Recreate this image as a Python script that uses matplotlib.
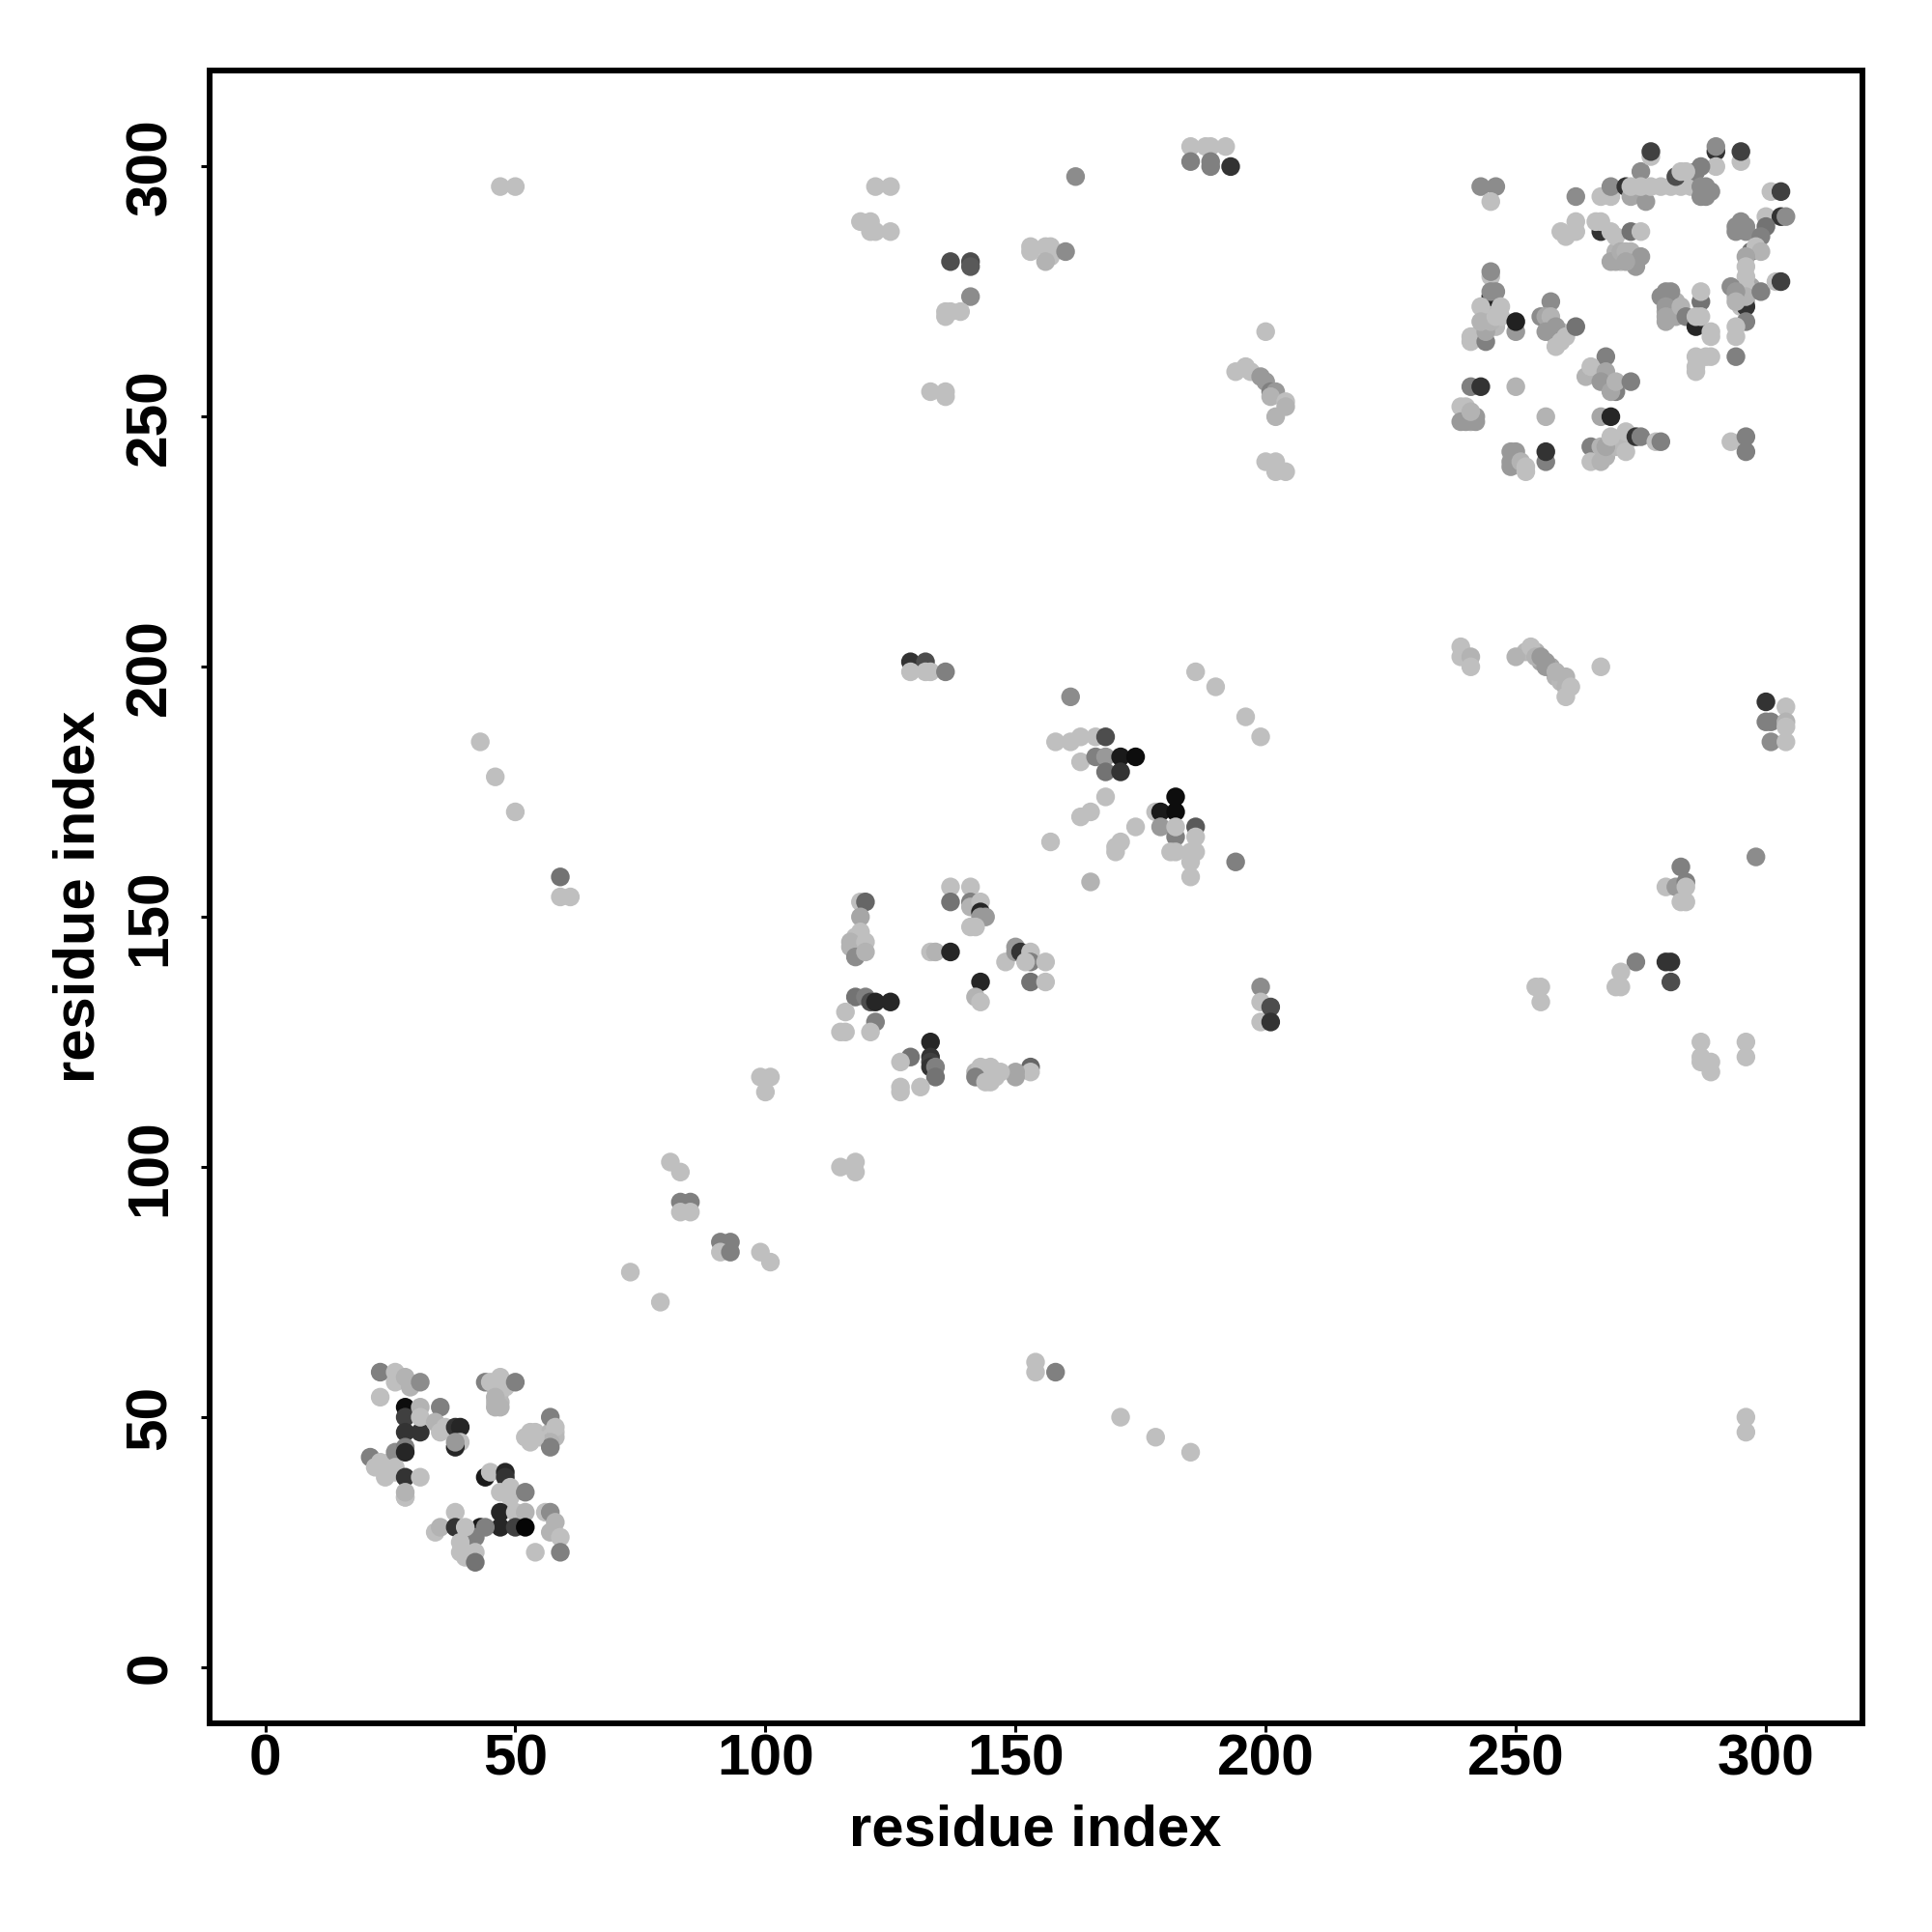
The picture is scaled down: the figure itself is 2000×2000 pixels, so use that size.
import numpy as np
import matplotlib
matplotlib.use("Agg")
import matplotlib.pyplot as plt

plt.rcParams['font.family'] = ['Liberation Sans', 'DejaVu Sans']

# denser underlay of the crowded contact groups
fill_x = [46,47,47,48,47,46,53,54,55,57,57,58,58,26,24,25,42,41,40,41,
          243,242,246,247,244,245,257,258,259,269,268,270,271,267,266,270,271,273,294,295,294,297,296,
          281,280,282,280,240,241,252,254,255,257,256,258,259,119,118,119,118,142,144,146,272,270]
fill_y = [53,53,55,56,52,56,47,47,46,47,46,47,46,39,40,41,27,25,24,24,
          266,266,268,270,269,271,268,266,267,244,242,245,245,243,242,283,281,283,275,272,274,276,273,
          272,271,273,269,250,249,203,203,201,200,201,198,197,145,144,143,146,119,119,118,245,244]
fill_g = [.75,.72,.72,.75,.7,.75,.75,.75,.75,.72,.75,.75,.72,.75,.75,.75,.75,.75,.75,.75,
          .72,.72,.72,.75,.7,.72,.7,.72,.75,.72,.7,.72,.75,.7,.72,.7,.72,.7,.7,.75,.72,.65,.72,
          .65,.65,.7,.65,.65,.65,.72,.7,.65,.65,.6,.7,.72,.7,.7,.72,.75,.72,.75,.75,.72,.72]

# upper-right cluster
ne_x = [243,246,245,262,267,269,269, 272,273,276,275,277,277, 273,275,277,279,281,283,285,
        290,290,290,287,286,282,283,284, 287,288,289,287,288, 295,295, 301,303, 300,303,304,
        294,295,296,294,296, 300,299,297,298,299,
        296,296,296,296,296,296,299,302,303,293,294,294,296,294,294,
        294,286,288,289,286,286, 287,287,
        279,280,281,280,280,282,283,284,286,286,287,289,289,
        259,262,262,260, 267,266,267,269,270,273,275,
        269,270,271,272,274,275,272,
        245,245,245,245,246,243,247,250,250,241,241,244,244,243,245,246,
        257,255,256,257,256,258,258,259,260,262,
        268,264,265,268,267,270,269,270,273, 241,243,250,
        239,240,239,240,242,242,241, 256,267,269,
        256,256,249,250,249,249,251,252,252,
        265,267,265,267,268,269,272,272,274,275,278,279,293,296,296]
ne_y = [296,296,293,294,294,294,296, 296,294,293,299,302,303, 296,296,296,296,296,296,296,
        303,304,300,300,299,298,299,299, 296,296,295,294,294, 301,303, 295,295, 290,290,290,
        288,289,288,287,287, 288,286,283,284,283,
        272,282,280,278,276,274,275,277,277,276,275,273,269,268,266,
        262,262,262,262,260,259, 273,275,
        274,275,275,272,270,270,272,270,268,270,270,267,266,
        287,289,287,286, 287,289,289,287,286,287,287,
        281,281,283,283,280,282,281,
        278,279,274,275,275,272,272,267,269,266,265,265,267,269,269,270,
        273,270,270,270,267,268,264,265,266,268,
        262,258,260,259,257,255,255,257,257, 256,256,256,
        252,252,249,249,249,250,251, 250,250,250,
        241,243,243,243,241,240,241,240,239,
        244,244,241,241,244,246,247,243,246,246,245,245,245,246,243]
ne_g = [.55,.55,.75,.55,.75,.75,.55, .2,.65,.6,.55,.75,.25, .75,.75,.75,.75,.75,.75,.75,
        .2,.55,.75,.5,.5,.3,.75,.75, .55,.55,.55,.55,.55, .75,.25, .75,.25, .75,.2,.55,
        .55,.55,.55,.55,.55, .45,.5,.45,.75,.7,
        .2,.65,.75,.75,.75,.7,.5,.75,.25,.55,.6,.7,.5,.75,.75,
        .5,.75,.75,.75,.75,.75, .45,.75,
        .55,.55,.55,.6,.65,.65,.7,.5,.15,.75,.75,.75,.75,
        .75,.75,.75,.75, .2,.75,.75,.75,.75,.45,.75,
        .65,.65,.68,.7,.6,.6,.65,
        .75,.55,.15,.55,.55,.75,.75,.6,.13,.75,.75,.5,.65,.7,.7,.75,
        .55,.55,.65,.7,.6,.6,.75,.75,.75,.45,
        .5,.7,.75,.65,.6,.5,.65,.7,.5, .5,.2,.7,
        .75,.75,.6,.6,.6,.6,.7, .7,.65,.15,
        .5,.2,.6,.6,.6,.6,.7,.75,.75,
        .5,.7,.75,.7,.65,.75,.75,.75,.2,.5,.75,.5,.75,.5,.5]

# lower-left cluster
sw_x = [23,26,26,28,29,31,23, 28,28,28,31,31,31,35,34,35,36, 38,39,39,38,38,
        21,23,22,24,26,26,28,28,28,31,28,28,28,
        44,45,47,50,46,46, 57,58,57,57,52,53,54,53,
        44,45,48,48,47,49,49,52,47,50,52,47,50,52,
        56,57,58,57,59,54,59,
        38,34,35,38,43,44,42,40,39,39,40,42,42]
sw_y = [59,59,57,58,56,57,54, 52,50,47,47,52,50,52,49,47,48, 48,48,45,44,45,
        42,41,40,38,43,40,44,43,38,38,34,34,35,
        57,57,58,57,54,52, 50,48,45,44,46,46,46,45,
        38,39,39,38,35,36,34,35,31,31,31,28,28,28,
        31,31,29,27,26,23,23,
        31,27,28,28,28,28,26,28,25,23,22,23,21]
sw_g = [.5,.75,.75,.7,.7,.55,.75, .05,.25,.2,.2,.7,.75,.5,.7,.75,.75, .2,.15,.75,.15,.6,
        .5,.75,.75,.75,.55,.75,.5,.15,.2,.75,.75,.75,.7,
        .5,.75,.75,.5,.7,.7, .5,.75,.7,.5,.75,.75,.75,.75,
        .1,.75,.15,.2,.75,.75,.75,.5,.15,.75,.7,.15,.25,.02,
        .75,.55,.7,.7,.75,.75,.5,
        .75,.75,.7,.2,.1,.5,.5,.75,.75,.75,.75,.75,.45]

# central block, residues 115-156
mid_x = [119,120,119,119,117,117,118,120,120,
         137,141,137,141,141,143,143,144,143,141,142,
         133,134,137, 148,150,150,151,153,153,152,156,153,156,
         143,142,143, 118,120,121,122,125,116,122,121,115,116,
         133,133,133,133,134,134,129,127,131,127,127,
         153,153,150,150,147,143,145,142,144,145]
mid_y = [153,153,150,147,145,144,142,145,143,
         156,156,153,153,152,153,151,150,150,148,148,
         143,143,143, 141,144,143,143,143,141,141,141,137,137,
         137,134,133, 134,134,133,133,133,131,129,127,127,127,
         125,122,121,120,120,118,122,121,116,116,115,
         120,119,119,118,119,120,120,118,117,117]
mid_g = [.75,.4,.65,.75,.7,.7,.55,.75,.7,
         .75,.75,.45,.5,.7,.75,.15,.6,.6,.75,.75,
         .75,.7,.15, .75,.6,.6,.2,.75,.5,.75,.75,.45,.75,
         .15,.7,.75, .45,.5,.3,.15,.15,.75,.5,.75,.75,.75,
         .15,.2,.25,.2,.5,.45,.45,.75,.75,.75,.75,
         .4,.75,.65,.65,.75,.75,.75,.5,.75,.75]

# remaining scattered contacts
far_x = [47,50,122,125,162,119,121,121,122,125,137,141,141,141,136,139,136,137,133,136,136,
         153,156,157,157,156,160,153, 185,188,189,192,185,189,189,193,
         200,194,196,197,199,200,201,202,201,202,204,204,200,202,202,204,
         239,239,241,241,250,253,254,255,256,258,260,260,261,260,267,
         300,304,300,301,304,304,301,304,298, 283,280,282,284,284,283,284,
         274,280,281,281,271,271,270,254,255,255,287,296,296,287,289,287,289,296,296,
         199,199,199,201,201,194, 129,132,129,132,133,136,186,190,196,199,161,
         158,161,163,166,163,168,166,168,171,174,168,171,163,165,168,174,170,171,170,157,165,
         178,179,182,182,179,182,186,186,182,181,182,185,186,185,185,
         43,46,50,59,59,61,99,101,100,115,118,118,
         81,83,83,85,83,85,91,93,91,93,99,101,73,79,154,154,158,171,178,185]
far_y = [296,296,296,296,298,289,289,287,287,287,281,281,280,274,270,271,271,271,255,255,254,
         284,284,284,282,281,283,283, 304,304,304,304,301,301,300,300,
         267,259,260,259,258,257,255,255,254,250,253,252,241,241,239,239,
         204,202,202,200,202,204,202,202,200,199,198,196,196,194,200,
         193,192,189,189,189,188,185,185,162, 160,156,156,157,156,153,153,
         141,141,141,137,139,136,136,136,136,133,125,125,122,122,121,121,119,50,47,
         136,133,129,132,129,161, 201,201,199,199,199,199,199,196,190,186,194,
         185,185,186,186,181,186,182,182,182,182,179,179,170,171,174,168,164,165,163,165,157,
         171,171,171,174,168,166,168,166,168,163,163,163,163,161,158,
         185,178,171,158,154,154,118,118,115,100,101,99,
         101,99,93,93,91,91,85,85,83,83,83,81,79,73,61,59,59,50,46,43]
far_g = [.75,.75,.75,.75,.55,.75,.75,.75,.75,.75,.3,.3,.35,.55,.75,.75,.75,.75,.75,.75,.75,
         .75,.75,.75,.75,.7,.55,.75, .75,.75,.75,.75,.5,.5,.5,.2,
         .75,.75,.75,.75,.6,.6,.5,.6,.7,.7,.75,.7,.75,.75,.75,.75,
         .75,.75,.7,.75,.7,.75,.7,.6,.6,.7,.7,.7,.75,.75,.75,
         .2,.75,.5,.5,.7,.75,.55,.75,.55, .5,.75,.6,.5,.75,.75,.75,
         .5,.2,.2,.3,.75,.75,.75,.75,.75,.75,.75,.75,.75,.75,.75,.75,.75,.75,.75,
         .55,.75,.75,.3,.2,.5, .2,.3,.75,.75,.75,.5,.75,.75,.75,.75,.55,
         .75,.75,.75,.75,.75,.3,.5,.6,.1,.05,.45,.2,.75,.75,.75,.75,.75,.75,.75,.75,.7,
         .75,.1,.05,.05,.6,.5,.35,.75,.75,.75,.75,.75,.75,.75,.75,
         .75,.75,.75,.45,.75,.75,.75,.75,.75,.75,.75,.75,
         .75,.75,.5,.5,.75,.75,.5,.5,.75,.5,.75,.75,.75,.75,.75,.75,.5,.75,.75,.75]

tick_values = [0, 50, 100, 150, 200, 250, 300]
axis_label = "residue index"

x = np.concatenate([fill_x, ne_x, sw_x, mid_x, far_x])
y = np.concatenate([fill_y, ne_y, sw_y, mid_y, far_y])
g = np.concatenate([fill_g, ne_g, sw_g, mid_g, far_g])

fig = plt.figure(figsize=(20, 20), dpi=100, facecolor='white')
ax = fig.add_axes([216.5/2000, (2000-1784)/2000, 1711/2000, 1711/2000])
ax.scatter(x, y, s=195, c=[str(v) for v in g], linewidths=0, zorder=3)
ax.set_xlim(-11.2, 319.2)
ax.set_ylim(-11.2, 319.2)
ax.set_xticks(tick_values)
ax.set_yticks(tick_values)
for s in ax.spines.values():
    s.set_linewidth(4.3)
ax.tick_params(axis='both', length=6.5, width=2.2, labelsize=43.5)
ax.tick_params(axis='x', pad=1)
ax.tick_params(axis='y', pad=17)
for t in ax.get_xticklabels():
    t.set_fontweight('bold')
for t in ax.get_yticklabels():
    t.set_fontweight('bold')
    t.set_rotation(90)
    t.set_va('center')
ax.set_xlabel(axis_label, fontsize=43, fontweight='bold')
ax.set_ylabel(axis_label, fontsize=43, fontweight='bold')
ax.xaxis.set_label_coords(0.5, (1784-1895)/1711, transform=ax.transAxes)
ax.xaxis.label.set_va('center')
ax.yaxis.set_label_coords((82-216.5)/1711, 0.5, transform=ax.transAxes)
ax.yaxis.label.set_va('center')
fig.savefig("out.png", dpi=100, facecolor='white')
